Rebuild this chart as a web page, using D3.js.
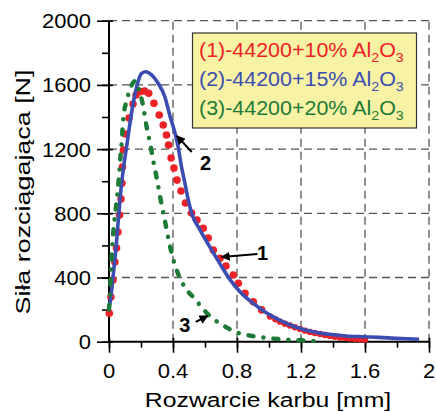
<!DOCTYPE html>
<html>
<head>
<meta charset="utf-8">
<script src="https://cdn.jsdelivr.net/npm/d3@7"></script>
<style>
  body { margin: 0; background: #fff; }
  text { font-family: "Liberation Sans", Arial, sans-serif; }
</style>
</head>
<body>
<script>
// rozwarcie karbu [mm] vs sila [N], three Al2O3 contents

// (1) 44200 + 10% Al2O3, red dots
var redX = [0.002,0.012,0.025,0.037,0.047,0.056,0.066,0.075,0.081,0.084,0.09,0.103,0.125,0.15,0.169,0.194,0.222,0.248,0.281,0.314,0.339,0.359,0.372,0.388,0.406,0.425,0.45,0.478,0.516,0.55,0.589,0.62,0.652,0.694,0.731,0.777,0.808,0.85,0.902,0.954,1.006,1.04,1.069,1.1,1.131,1.162,1.194,1.225,1.256,1.287,1.319,1.35,1.381,1.412,1.444,1.475,1.506,1.537,1.569,1.6];
var redY = [177,278,384,497,584,683,789,889,987,1088,1194,1294,1394,1481,1537,1558,1562,1548,1485,1412,1350,1288,1226,1145,1082,1007,939,864,802,758,707,646,571,520,472,416,364,302,249,198,157,140,125,112,101,90,79,69,60,54,48,42,36,31,26,23,20,17,15,13];

// (2) 44200 + 15% Al2O3, blue line
var blueX = [0.005,0.02,0.03,0.045,0.06,0.075,0.09,0.11,0.131,0.151,0.173,0.204,0.23,0.266,0.307,0.349,0.38,0.411,0.432,0.453,0.474,0.494,0.52,0.567,0.629,0.692,0.754,0.82,0.9,0.983,1.086,1.17,1.273,1.377,1.481,1.584,1.688,1.793,1.938];
var blueY = [230,350,450,600,780,950,1080,1215,1361,1485,1589,1672,1682,1662,1610,1526,1410,1305,1215,1090,990,890,790,700,592,488,390,310,240,180,125,90,62,46,36,31,27,21,15];

// (3) 44200 + 20% Al2O3, green dash-dot
var greenX = [0,0.006,0.015,0.025,0.045,0.06,0.07,0.08,0.09,0.11,0.13,0.165,0.19,0.21,0.235,0.26,0.28,0.3,0.32,0.35,0.38,0.415,0.47,0.536,0.6,0.66,0.71,0.78,0.86,0.94,1.01,1.09,1.17,1.25,1.28];
var greenY = [200,300,500,660,850,1000,1130,1250,1400,1500,1570,1625,1560,1485,1340,1220,1110,1010,900,750,600,470,345,268,190,135,104,65,42,30,21,14,10,6,5];

var xTicks = [0, 0.4, 0.8, 1.2, 1.6, 2];
var xTickLabels = ["0", "0.4", "0.8", "1.2", "1.6", "2"];
var yTicks = [0, 400, 800, 1200, 1600, 2000];
var yTickLabels = ["0", "400", "800", "1200", "1600", "2000"];

var legendNames = ["(1)-44200+10% Al", "(2)-44200+15% Al", "(3)-44200+20% Al"];

// annotation arrows: label, label pos, arrow tail, arrow tip (data units)
var notes = [
  {label: "1", lx: 0.96, ly: 553, x1: 0.928, y1: 546, x2: 0.704, y2: 528},
  {label: "2", lx: 0.604, ly: 1113, x1: 0.517, y1: 1182, x2: 0.424, y2: 1282},
  {label: "3", lx: 0.474, ly: 104, x1: 0.542, y1: 123, x2: 0.617, y2: 160}
];

var w = 436;
var h = 412;
var colors = {red: "#ee2226", blue: "#3b4db1", green: "#1d7a37"};

var svg = d3.select("body")
            .append("svg")
            .attr("width", w)
            .attr("height", h);

var xScale = d3.scaleLinear().domain([0, 2]).range([109, 429]);
var yScale = d3.scaleLinear().domain([0, 2000]).range([341.7, 20.7]);

// dashed grid at the major ticks
svg.selectAll(".vgrid")
   .data(xTicks.slice(1))
   .enter()
   .append("line")
   .attr("x1", function(d) { return xScale(d); })
   .attr("x2", function(d) { return xScale(d); })
   .attr("y1", yScale(0))
   .attr("y2", yScale(2000))
   .attr("stroke", "#555")
   .attr("stroke-width", 1.3)
   .attr("stroke-dasharray", "8,5");

svg.selectAll(".hgrid")
   .data(yTicks.slice(1))
   .enter()
   .append("line")
   .attr("x1", xScale(0))
   .attr("x2", xScale(2))
   .attr("y1", function(d) { return yScale(d); })
   .attr("y2", function(d) { return yScale(d); })
   .attr("stroke", "#555")
   .attr("stroke-width", 1.3)
   .attr("stroke-dasharray", "8,5");

// axes with major and minor ticks
var minorX = d3.range(0, 2.01, 0.2);
var minorY = d3.range(0, 2001, 200);

svg.append("g")
   .attr("transform", "translate(0," + yScale(0) + ")")
   .call(d3.axisBottom(xScale).tickValues(minorX).tickSize(6).tickFormat(""))
   .call(function(g) { g.select(".domain").remove(); })
   .selectAll("line").attr("stroke", "#000").attr("stroke-width", 1.6);

svg.append("g")
   .attr("transform", "translate(0," + yScale(0) + ")")
   .call(d3.axisBottom(xScale).tickValues(xTicks).tickSizeInner(11).tickSizeOuter(0).tickFormat(""))
   .call(function(g) {
     g.select(".domain").remove();
     g.selectAll("line").attr("y1", -4).attr("stroke", "#000").attr("stroke-width", 1.6);
   });

svg.append("g")
   .attr("transform", "translate(" + xScale(0) + ",0)")
   .call(d3.axisLeft(yScale).tickValues(minorY).tickSize(7).tickFormat(""))
   .call(function(g) { g.select(".domain").remove(); })
   .selectAll("line").attr("stroke", "#000").attr("stroke-width", 1.6);

svg.append("g")
   .attr("transform", "translate(" + xScale(0) + ",0)")
   .call(d3.axisLeft(yScale).tickValues(yTicks).tickSizeInner(12).tickSizeOuter(0).tickFormat(""))
   .call(function(g) {
     g.select(".domain").remove();
     g.selectAll("line").attr("x1", 4).attr("stroke", "#000").attr("stroke-width", 1.6);
   });

svg.append("line")
   .attr("x1", xScale(0)).attr("x2", xScale(2))
   .attr("y1", yScale(0)).attr("y2", yScale(0))
   .attr("stroke", "#000").attr("stroke-width", 2);
svg.append("line")
   .attr("x1", xScale(0)).attr("x2", xScale(0))
   .attr("y1", yScale(0)).attr("y2", yScale(2000))
   .attr("stroke", "#000").attr("stroke-width", 2);

// tick labels, a bit wider than the font
svg.selectAll(".xlab")
   .data(xTicks)
   .enter()
   .append("text")
   .attr("transform", function(d) { return "translate(" + xScale(d) + ",378) scale(1.1,1)"; })
   .attr("text-anchor", "middle")
   .style("font-size", "20px")
   .text(function(d, i) { return xTickLabels[i]; });

svg.selectAll(".ylab")
   .data(yTicks)
   .enter()
   .append("text")
   .attr("transform", function(d) { return "translate(91," + (yScale(d) + 7.5) + ") scale(1.1,1)"; })
   .attr("text-anchor", "end")
   .style("font-size", "20px")
   .text(function(d, i) { return yTickLabels[i]; });

// axis titles
svg.append("text")
   .attr("transform", "translate(268,407) scale(1.18,1)")
   .attr("text-anchor", "middle")
   .style("font-size", "21px")
   .text("Rozwarcie karbu [mm]");

svg.append("text")
   .attr("transform", "translate(30,192) rotate(-90)")
   .attr("text-anchor", "middle")
   .attr("textLength", 245)
   .attr("lengthAdjust", "spacingAndGlyphs")
   .style("font-size", "21px")
   .text("Siła rozciągająca [N]");

// curves
var red = redX.map(function(d, i) { return [d, redY[i]]; });
var blue = blueX.map(function(d, i) { return [d, blueY[i]]; });
var green = greenX.map(function(d, i) { return [d, greenY[i]]; });

var line = d3.line()
             .x(function(d) { return xScale(d[0]); })
             .y(function(d) { return yScale(d[1]); })
             .curve(d3.curveMonotoneX);

svg.selectAll(".reddot")
   .data(red)
   .enter()
   .append("circle")
   .attr("cx", function(d) { return xScale(d[0]); })
   .attr("cy", function(d) { return yScale(d[1]); })
   .attr("r", function(d) { return d[0] > 1 ? 3.2 : 3.8; })
   .attr("fill", colors.red);

svg.append("path")
   .datum(blue)
   .attr("d", line)
   .attr("fill", "none")
   .attr("stroke", colors.blue)
   .attr("stroke-width", 3.6)
   .attr("stroke-linejoin", "round");

svg.append("path")
   .datum(green)
   .attr("d", line)
   .attr("fill", "none")
   .attr("stroke", colors.green)
   .attr("stroke-width", 4.5)
   .attr("stroke-linecap", "round")
   .attr("stroke-dasharray", "5,10,0.1,10");

// legend
var legend = svg.append("g");
legend.append("rect")
      .attr("x", 192.5).attr("y", 33)
      .attr("width", 224).attr("height", 95)
      .attr("fill", "#f8f2a4")
      .attr("stroke", "#333")
      .attr("stroke-width", 1.2);

var legendColors = [colors.red, colors.blue, colors.green];
legendNames.forEach(function(name, i) {
  var t = legend.append("text")
                .attr("transform", "translate(199," + (57 + i * 29) + ") scale(1.1,1)")
                .attr("fill", legendColors[i])
                .style("font-size", "19.5px");
  t.append("tspan").text(name);
  t.append("tspan").attr("dy", 5).style("font-size", "13px").text("2");
  t.append("tspan").attr("dy", -5).text("O");
  t.append("tspan").attr("dy", 5).style("font-size", "13px").text("3");
});

// arrows with numbers
svg.append("defs")
   .append("marker")
   .attr("id", "head")
   .attr("viewBox", "0 0 10 10")
   .attr("refX", 9).attr("refY", 5)
   .attr("markerWidth", 4.5).attr("markerHeight", 4.5)
   .attr("markerUnits", "strokeWidth")
   .attr("orient", "auto")
   .append("path")
   .attr("d", "M0,0 L10,5 L0,10 z")
   .attr("fill", "#000");

svg.selectAll(".arrow")
   .data(notes)
   .enter()
   .append("line")
   .attr("x1", function(d) { return xScale(d.x1); })
   .attr("y1", function(d) { return yScale(d.y1); })
   .attr("x2", function(d) { return xScale(d.x2); })
   .attr("y2", function(d) { return yScale(d.y2); })
   .attr("stroke", "#000")
   .attr("stroke-width", 2)
   .attr("marker-end", "url(#head)");

svg.selectAll(".note")
   .data(notes)
   .enter()
   .append("text")
   .attr("x", function(d) { return xScale(d.lx); })
   .attr("y", function(d) { return yScale(d.ly) + 7; })
   .attr("text-anchor", "middle")
   .style("font-size", "20px")
   .style("font-weight", "bold")
   .text(function(d) { return d.label; });
</script>
</body>
</html>
